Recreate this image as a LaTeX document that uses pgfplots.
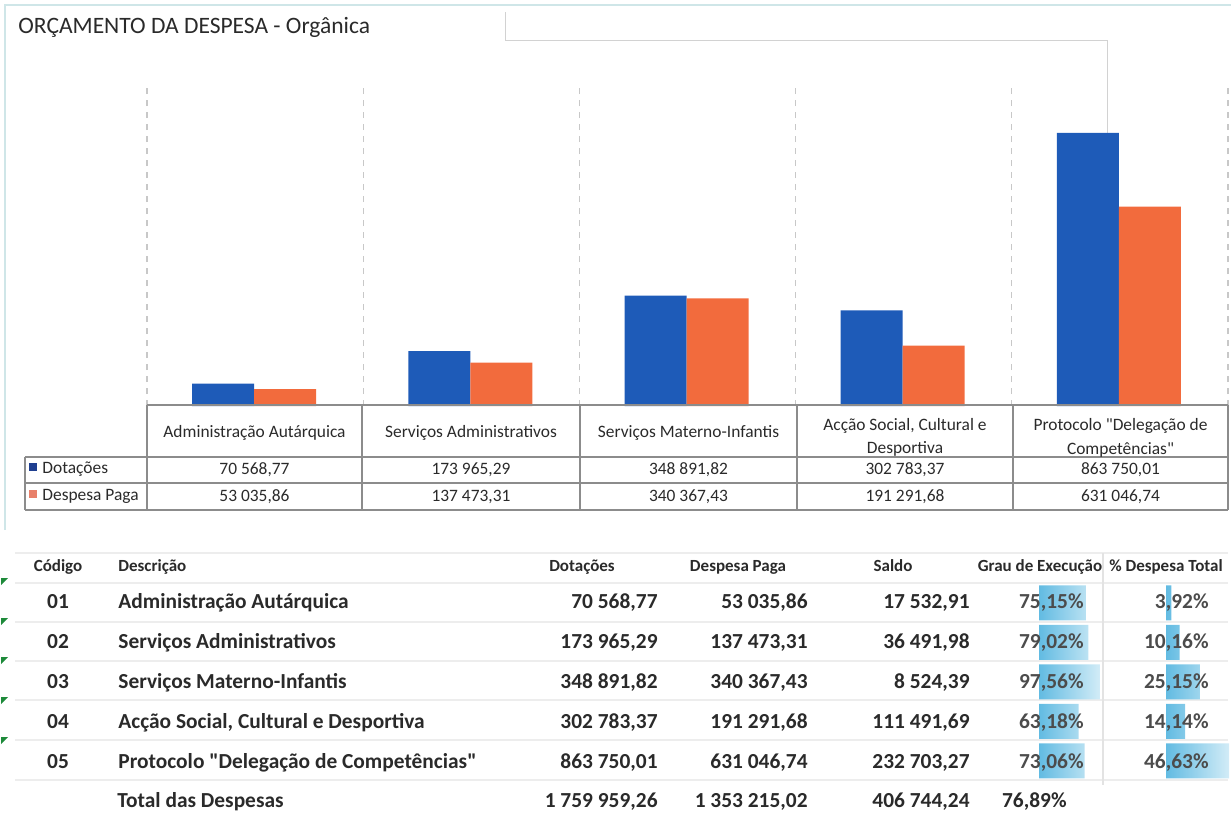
\documentclass[border=0pt]{standalone}
\usepackage{pgfplots}
\pgfplotsset{compat=1.18}
\usepackage{fontspec}
\setmainfont{Carlito}[Ligatures=TeXOff]
\definecolor{barblue}{HTML}{1E5BB8}
\definecolor{barorange}{HTML}{F26B3D}
\definecolor{legblue}{HTML}{1F3F90}
\definecolor{legorange}{HTML}{E8806A}
\definecolor{gridc}{HTML}{C8C8C8}
\definecolor{tline}{HTML}{8C8C8C}
\definecolor{frame}{HTML}{CFE6E8}
\definecolor{txt}{HTML}{2A2A2A}
\definecolor{dbar}{HTML}{62BBE2}
\definecolor{dbarr}{HTML}{D2ECF7}
\definecolor{errgreen}{HTML}{1E8A3A}
\newcommand{\fa}{\fontsize{8.7pt}{10pt}\selectfont}
\newcommand{\fb}{\fontsize{10.7pt}{12pt}\selectfont\bfseries}
\newcommand{\fh}{\fontsize{8.5pt}{10pt}\selectfont\bfseries}
\begin{document}
\begin{tikzpicture}
\useasboundingbox (0,0) rectangle (615.5pt,-410pt);
\begin{scope}[x=0.5pt,y=-0.5pt]
  \draw[frame, line width=1pt] (5,530) -- (5,5) -- (1231,5);
  \draw[gray!35, line width=0.5pt] (505,12) -- (505,40) -- (1107,40) -- (1107,133);
  \node[anchor=base west, inner sep=0pt, text=txt] at (18,33) {\fontsize{11.75pt}{13pt}\selectfont ORÇAMENTO DA DESPESA - Orgânica};
\end{scope}

\begin{axis}[at={(73.5pt,-203pt)}, anchor=south west, scale only axis,
  width=540.5pt, height=161.5pt,
  xmin=-0.5, xmax=4.5, ymin=0, ymax=1021800,
  axis line style={draw=none}, tick style={draw=none},
  xtick={-0.5,0.5,1.5,2.5,3.5,4.5}, xticklabel=\mbox{}, ytick=\empty,
  xmajorgrids, major grid style={dashed, gridc, line width=0.6pt},
  ybar, bar width=31pt, clip=false]
\addplot[fill=barblue, draw=none, bar shift=-16pt] coordinates {(0,70568.77) (1,173965.29) (2,348891.82) (3,302783.37) (4,863750.01)};
\addplot[fill=barorange, draw=none, bar shift=15pt] coordinates {(0,53035.86) (1,137473.31) (2,340367.43) (3,191291.68) (4,631046.74)};
\end{axis}

\begin{scope}[x=0.5pt,y=-0.5pt]
  % data table grid
  \draw[tline, line width=0.6pt] (147,405) -- (1228,405);
  \draw[tline, line width=0.6pt] (25,457) -- (1228,457);
  \draw[tline, line width=0.6pt] (25,483) -- (1228,483);
  \draw[tline, line width=0.6pt] (25,510) -- (1228,510);
  \draw[tline, line width=0.6pt] (25,457) -- (25,510);
  \foreach \xx in {147,362,580,797,1013,1228} {\draw[tline, line width=0.6pt] (\xx,405) -- (\xx,510);}
  % headers
  \node[anchor=base, inner sep=0pt, text=txt] at (254.5,437.5) {\fa Administração Autárquica};
  \node[anchor=base, inner sep=0pt, text=txt] at (471,437.5) {\fa Serviços Administrativos};
  \node[anchor=base, inner sep=0pt, text=txt] at (688.5,437.5) {\fa Serviços Materno-Infantis};
  \node[anchor=base, inner sep=0pt, text=txt] at (905,430) {\fa Acção Social, Cultural e};
  \node[anchor=base, inner sep=0pt, text=txt] at (905,453) {\fa Desportiva};
  \node[anchor=base, inner sep=0pt, text=txt] at (1120.5,430) {\fa Protocolo "Delegação de};
  \node[anchor=base, inner sep=0pt, text=txt] at (1120.5,454) {\fa Competências"};
  % legend
  \fill[legblue] (29,463) rectangle (37,471);
  \node[anchor=base west, inner sep=0pt, text=txt] at (42,473.5) {\fa Dotações};
  \fill[legorange] (29,490) rectangle (37,498);
  \node[anchor=base west, inner sep=0pt, text=txt] at (42,500.5) {\fa Despesa Paga};
  % values
  \foreach \xx/\va/\vb in {254.5/{70 568,77}/{53 035,86}, 471/{173 965,29}/{137 473,31}, 688.5/{348 891,82}/{340 367,43}, 905/{302 783,37}/{191 291,68}, 1120.5/{863 750,01}/{631 046,74}} {
    \node[anchor=base, inner sep=0pt, text=txt] at (\xx,474) {\fa \va};
    \node[anchor=base, inner sep=0pt, text=txt] at (\xx,501) {\fa \vb};
  }
  % lower table lines
  \foreach \yy in {553,583,622,661,700,740,780} {\draw[gray!14, line width=0.6pt] (15,\yy) -- (1228,\yy);}
  \draw[gray!22, line width=0.6pt] (1103,553) -- (1103,785);
  \foreach \yy in {578,618,657,697,737} {\fill[errgreen] (1,\yy) -- (8,\yy) -- (1,\yy+7) -- cycle;}
\end{scope}

\begin{axis}[at={(519.5pt,-291.6pt)}, anchor=north west, scale only axis,
  width=32pt, height=98.75pt, xmin=0, xmax=102.4, ymin=-0.5, ymax=4.5, y dir=reverse,
  axis lines=none, xbar, bar width=17.5pt, clip=false]
\addplot[draw=none, left color=dbar, right color=dbarr] coordinates {(75.15,0) (79.02,1) (97.56,2) (63.18,3) (73.06,4)};
\end{axis}
\begin{axis}[at={(583pt,-291.6pt)}, anchor=north west, scale only axis,
  width=31.5pt, height=98.75pt, xmin=0, xmax=46.63, ymin=-0.5, ymax=4.5, y dir=reverse,
  axis lines=none, xbar, bar width=17.5pt, clip=false]
\addplot[draw=none, left color=dbar, right color=dbarr] coordinates {(3.92,0) (10.16,1) (25.15,2) (14.14,3) (46.63,4)};
\end{axis}

\begin{scope}[x=0.5pt,y=-0.5pt]
  % lower table headers
  \node[anchor=base, inner sep=0pt, text=txt] at (58,571) {\fh Código};
  \node[anchor=base west, inner sep=0pt, text=txt] at (118,571) {\fh Descrição};
  \node[anchor=base, inner sep=0pt, text=txt] at (582,571) {\fh Dotações};
  \node[anchor=base, inner sep=0pt, text=txt] at (738,571) {\fh Despesa Paga};
  \node[anchor=base, inner sep=0pt, text=txt] at (893,571) {\fh Saldo};
  \node[anchor=base, inner sep=0pt, text=txt] at (1040,571) {\fh Grau de Execução};
  \node[anchor=base, inner sep=0pt, text=txt] at (1166,571) {\fh \% Despesa Total};
  % rows
  \foreach \yy/\cc/\dd/\va/\vb/\vc/\vd/\ve in {
    608/01/{Administração Autárquica}/{70 568,77}/{53 035,86}/{17 532,91}/{75,15\%}/{3,92\%},
    648/02/{Serviços Administrativos}/{173 965,29}/{137 473,31}/{36 491,98}/{79,02\%}/{10,16\%},
    688/03/{Serviços Materno-Infantis}/{348 891,82}/{340 367,43}/{8 524,39}/{97,56\%}/{25,15\%},
    728/04/{Acção Social, Cultural e Desportiva}/{302 783,37}/{191 291,68}/{111 491,69}/{63,18\%}/{14,14\%},
    768/05/{Protocolo "Delegação de Competências"}/{863 750,01}/{631 046,74}/{232 703,27}/{73,06\%}/{46,63\%}} {
    \node[anchor=base, inner sep=0pt, text=txt] at (58,\yy) {\fb \cc};
    \node[anchor=base west, inner sep=0pt, text=txt] at (118,\yy) {\fb \dd};
    \node[anchor=base east, inner sep=0pt, text=txt] at (658,\yy) {\fb \va};
    \node[anchor=base east, inner sep=0pt, text=txt] at (808,\yy) {\fb \vb};
    \node[anchor=base east, inner sep=0pt, text=txt] at (970,\yy) {\fb \vc};
    \node[anchor=base east, inner sep=0pt, text=black!70] at (1084,\yy) {\fb \vd};
    \node[anchor=base east, inner sep=0pt, text=black!70] at (1209,\yy) {\fb \ve};
  }
  \node[anchor=base west, inner sep=0pt, text=txt] at (117,807) {\fb Total das Despesas};
  \node[anchor=base east, inner sep=0pt, text=txt] at (658,807) {\fb 1 759 959,26};
  \node[anchor=base east, inner sep=0pt, text=txt] at (808,807) {\fb 1 353 215,02};
  \node[anchor=base east, inner sep=0pt, text=txt] at (970,807) {\fb 406 744,24};
  \node[anchor=base east, inner sep=0pt, text=txt] at (1067,807) {\fb 76,89\%};
\end{scope}
\end{tikzpicture}
\end{document}
